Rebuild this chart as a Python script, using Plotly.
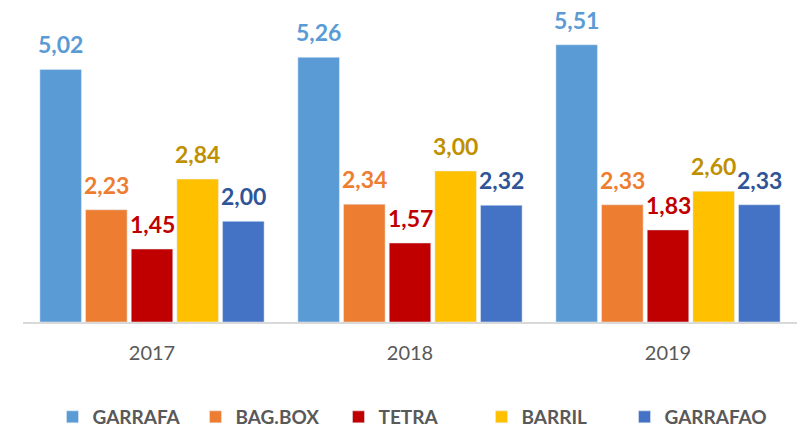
import plotly.graph_objects as go

# Datos
anos = ['2017', '2018', '2019']
garrafa = [5.02, 5.26, 5.51]
bag_box = [2.23, 2.34, 2.33]
tetra = [1.45, 1.57, 1.83]
barril = [2.84, 3.00, 2.60]
garrafao = [2.00, 2.32, 2.33]

series = [
    ('GARRAFA', garrafa, '#5B9BD5', '#5B9BD5'),
    ('BAG.BOX', bag_box, '#ED7D31', '#ED7D31'),
    ('TETRA', tetra, '#C00000', '#C00000'),
    ('BARRIL', barril, '#FFC000', '#BF9000'),
    ('GARRAFAO', garrafao, '#4472C4', '#2F5597'),
]

ANCHO, ALTO = 807, 431
MARGEN = dict(l=15, r=18, t=2, b=117)
BARGAP = 0.115

fig = go.Figure()
for nombre, valores, color, _ in series:
    fig.add_trace(go.Bar(
        x=anos,
        y=valores,
        name=nombre,
        marker_color=color,
    ))

# Etiquetas de valor (separadas del tope de la barra como en Excel)
# en eje de categorías la anotación usa el índice de la categoría
ancho_cat = (ANCHO - MARGEN['l'] - MARGEN['r']) / len(anos)
paso = ancho_cat * (1 - BARGAP) / len(series)
for i, (nombre, valores, _, color_txt) in enumerate(series):
    for j, v in enumerate(valores):
        fig.add_annotation(
            x=j, y=v, text=f'{v:.2f}'.replace('.', ','),
            xshift=(i - (len(series) - 1) / 2) * paso,
            yanchor='bottom', yshift=9, showarrow=False,
            font=dict(family='Lato', size=23, color=color_txt, weight='bold'),
        )

fig.update_layout(
    width=ANCHO,
    height=ALTO,
    barmode='group',
    bargap=BARGAP,
    bargroupgap=0.09,
    margin=MARGEN,
    paper_bgcolor='white',
    plot_bgcolor='white',
    showlegend=True,
    # leyenda referida al contenedor para que no empuje el margen inferior
    legend=dict(
        orientation='h', xanchor='center', x=0.5,
        yref='container', yanchor='middle', y=0.051,
        font=dict(family='Lato', size=19, color='#595959', weight='bold'),
        entrywidth=98, entrywidthmode='pixels',
    ),
)
fig.update_xaxes(
    type='category', range=[-0.5, len(anos) - 0.5],
    showline=True, linecolor='#D9D9D9', linewidth=2,
    tickfont=dict(family='Lato', size=20, color='#595959'),
    ticklabelstandoff=12,
    ticks='', showgrid=False, automargin=False,
)
fig.update_yaxes(visible=False, range=[0, 6.2], showgrid=False, automargin=False)

fig.write_html('out.html')
